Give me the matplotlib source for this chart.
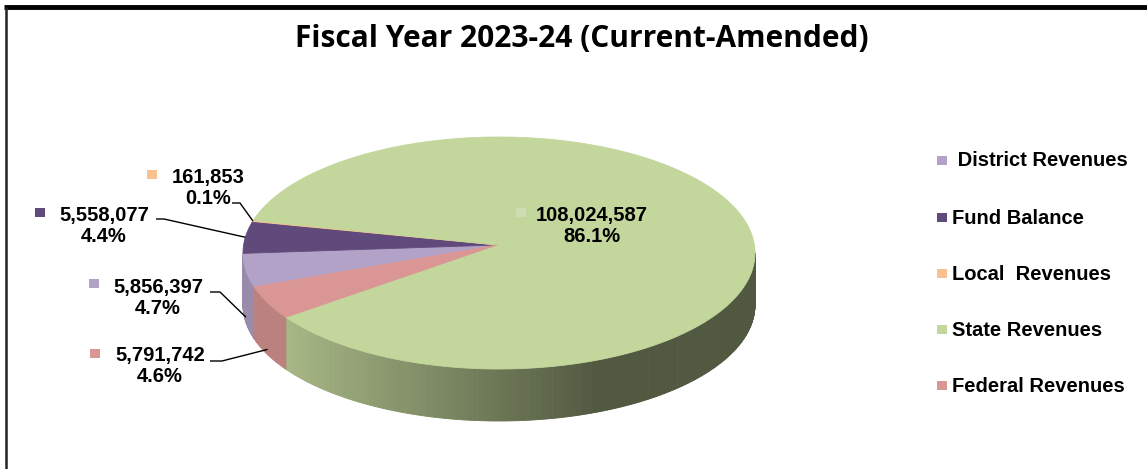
import numpy as np
import matplotlib
matplotlib.use("Agg")
import matplotlib.pyplot as plt
from matplotlib.patches import Polygon, Rectangle
from matplotlib.colors import to_rgb

# ---- data ----
categories = ["District Revenues", "Fund Balance", "Local  Revenues", "State Revenues", "Federal Revenues"]
values = [5856397, 5558077, 161853, 108024587, 5791742]
colors = ["#b3a2c7", "#604a7b", "#fac090", "#c3d69b", "#d99694"]
title = "Fiscal Year 2023-24 (Current-Amended)"

# ---- layout ----
W, H = 1147, 469
fig = plt.figure(figsize=(W / 100, H / 100), dpi=100)
ax = fig.add_axes([0, 0, 1, 1])
ax.set_xlim(0, W)
ax.set_ylim(H, 0)
ax.axis("off")

cx, cy, rx, ry, depth = 499.0, 253.0, 256.0, 116.0, 52.0
apex = (497.0, 245.0)
start = 197.0  # degrees, slices go clockwise

vals = np.array(values, dtype=float)
fracs = vals / vals.sum()
bounds = start - 360.0 * np.concatenate([[0.0], np.cumsum(fracs)])


def rim(t_deg):
    t = np.radians(t_deg)
    return cx + rx * np.cos(t), cy - ry * np.sin(t)


def shade(x):
    # light at left, dark towards the right
    f = 0.85 - (0.85 - 0.41) * (x - 290.0) / (600.0 - 290.0)
    return float(np.clip(f, 0.41, 0.86))


# side walls (front half only)
step = 0.5
for i in range(len(vals)):
    hi, lo = bounds[i], bounds[i + 1]
    base = np.array(to_rgb(colors[i]))
    t = lo
    while t < hi - 1e-9:
        t2 = min(t + step, hi)
        mid = (t + t2) / 2.0
        if np.sin(np.radians(mid)) < 0:
            x1, y1 = rim(t)
            x2, y2 = rim(t2)
            c = np.clip(base * shade((x1 + x2) / 2.0), 0, 1)
            ax.add_patch(Polygon([(x1, y1), (x2, y2), (x2, y2 + depth), (x1, y1 + depth)],
                                 closed=True, facecolor=c, edgecolor=c, lw=0.6))
        t = t2

# top faces
for i in range(len(vals)):
    hi, lo = bounds[i], bounds[i + 1]
    ts = np.linspace(hi, lo, max(3, int((hi - lo) / 0.5) + 2))
    pts = [apex] + [rim(t) for t in ts]
    ax.add_patch(Polygon(pts, closed=True, facecolor=colors[i], edgecolor=colors[i], lw=0.6))

# ---- data labels ----
lab_font = dict(family=["Liberation Sans", "DejaVu Sans"], fontsize=14.5, fontweight="bold",
                color="black", ha="center", va="center", linespacing=1.1)
# label centre (x, y of first line), key centre, elbow start/end
label_layout = {
    0: dict(xy=(158, 287), key=(94, 284), line=[(210, 292), (220, 292)]),
    1: dict(xy=(104, 215), key=(40, 212.5), line=[(156, 219), (164, 219)]),
    2: dict(xy=(208, 177), key=(151.5, 174.5), line=[(232, 203), (240, 203)]),
    3: dict(xy=(592, 215), key=(521, 212.5), line=None),
    4: dict(xy=(160, 356), key=(94.5, 353.5), line=[(210, 361), (222, 361)]),
}
for i in range(len(vals)):
    L = label_layout[i]
    x, y = L["xy"]
    ax.text(x, y, f"{values[i]:,.0f}", **lab_font)
    ax.text(x, y + 21, f"{fracs[i] * 100:.1f}%", **lab_font)
    kc = colors[i] if i != 3 else "#d0ddb2"
    kx, ky = L["key"]
    ax.add_patch(Rectangle((kx - 5, ky - 4.5), 10, 9, facecolor=kc, edgecolor="none"))
    if L["line"] is not None:
        mid = (bounds[i] + bounds[i + 1]) / 2.0
        px, py = rim(mid)
        if np.sin(np.radians(mid)) < 0:
            py += 0.9 * depth
        (ax_, ay_), (bx_, by_) = L["line"]
        ax.plot([ax_, bx_, px], [ay_, by_, py], color="black", lw=1.0, solid_capstyle="butt")

# ---- legend ----
leg_y = [161, 218, 274, 330, 386]
for i, name in enumerate(categories):
    ax.add_patch(Rectangle((937, leg_y[i] - 4.5), 10, 9, facecolor=colors[i], edgecolor="none"))
    ax.text(952, leg_y[i], (" " + name) if i == 0 else name,
            family=["Liberation Sans", "DejaVu Sans"], fontsize=14.5, fontweight="bold",
            ha="left", va="center", color="black")

# ---- title ----
ax.text(582, 39, title, family=["Open Sans", "DejaVu Sans"],
        fontsize=21.5, fontweight="bold", ha="center", va="center", color="black")

# ---- frame ----
ax.plot([4, W], [7, 7], color="black", lw=3.5, solid_capstyle="butt")
ax.plot([5.5, 5.5], [7, H], color="#222222", lw=1.8, solid_capstyle="butt")

fig.savefig("out.png", dpi=100, facecolor="white")
